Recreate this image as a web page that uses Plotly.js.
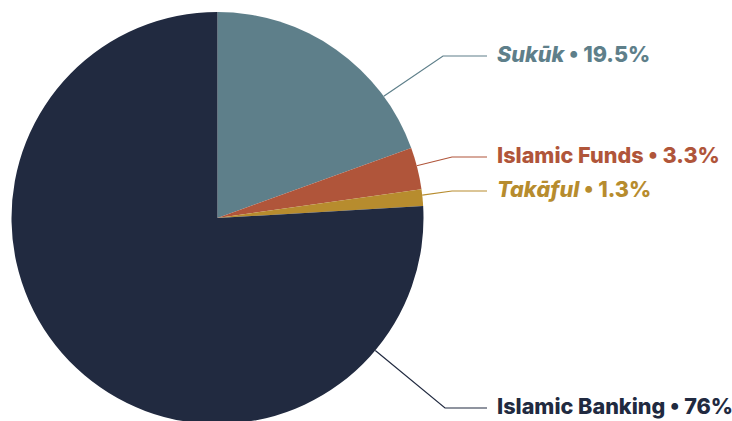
<!DOCTYPE html>
<html><head><meta charset="utf-8">
<script src="https://cdn.plot.ly/plotly-3.0.1.min.js"></script>
<style>html,body{margin:0;padding:0;overflow:hidden;background:#fff}#c{width:732px;height:430px}</style>
</head><body><div id="c"></div>
<script>
const labels = ["Sukūk", "Islamic Funds", "Takāful", "Islamic Banking"];
const italicName = [true, false, true, false];
const values = [19.5, 3.3, 1.3, 76];
const valueText = ["19.5%", "3.3%", "1.3%", "76%"];
const colors = ["#5E7F8A", "#B0553A", "#B78C2E", "#212A40"];
// leader anchor angle (deg clockwise from top) and label row (px from top)
const leaderAngle = [53.8, 75.3, 83.6, 130];
const labelY = [56, 157, 191, 408];

const W = 732, H = 430;
const cx = 217.5, cy = 218, r = 206;
const px = x => x / W, py = y => 1 - y / H;

const shapes = [], annotations = [];
labels.forEach((l, i) => {
  const a = leaderAngle[i] * Math.PI / 180;
  const sx = cx + r * Math.sin(a), sy = cy - r * Math.cos(a);
  const ex = i === 0 ? 443 : (i === 3 ? 445 : 452);
  shapes.push({type: "path", xref: "paper", yref: "paper",
    path: `M ${px(sx)} ${py(sy)} L ${px(ex)} ${py(labelY[i])} L ${px(487)} ${py(labelY[i])}`,
    line: {color: colors[i], width: 1.2}});
  const name = italicName[i] ? `<i>${l}</i>` : l;
  annotations.push({xref: "paper", yref: "paper", x: px(495), y: py(labelY[i] - 2),
    xanchor: "left", yanchor: "middle", showarrow: false,
    text: `${name} • ${valueText[i]}`,
    font: {family: "Inter, 'Noto Sans', sans-serif", size: 21.6, weight: 800, color: colors[i]}});
});

Plotly.newPlot("c", [{
  type: "pie", labels: labels, values: values, sort: false, direction: "clockwise",
  rotation: 0, textinfo: "none", hoverinfo: "none",
  marker: {colors: colors, line: {width: 0}},
  domain: {x: [px(cx - r), px(cx + r)], y: [py(cy + r), py(cy - r)]}
}], {
  width: W, height: H, margin: {l: 0, r: 0, t: 0, b: 0},
  showlegend: false, paper_bgcolor: "#fff",
  shapes: shapes, annotations: annotations
}, {displayModeBar: false, staticPlot: true});
</script></body></html>
